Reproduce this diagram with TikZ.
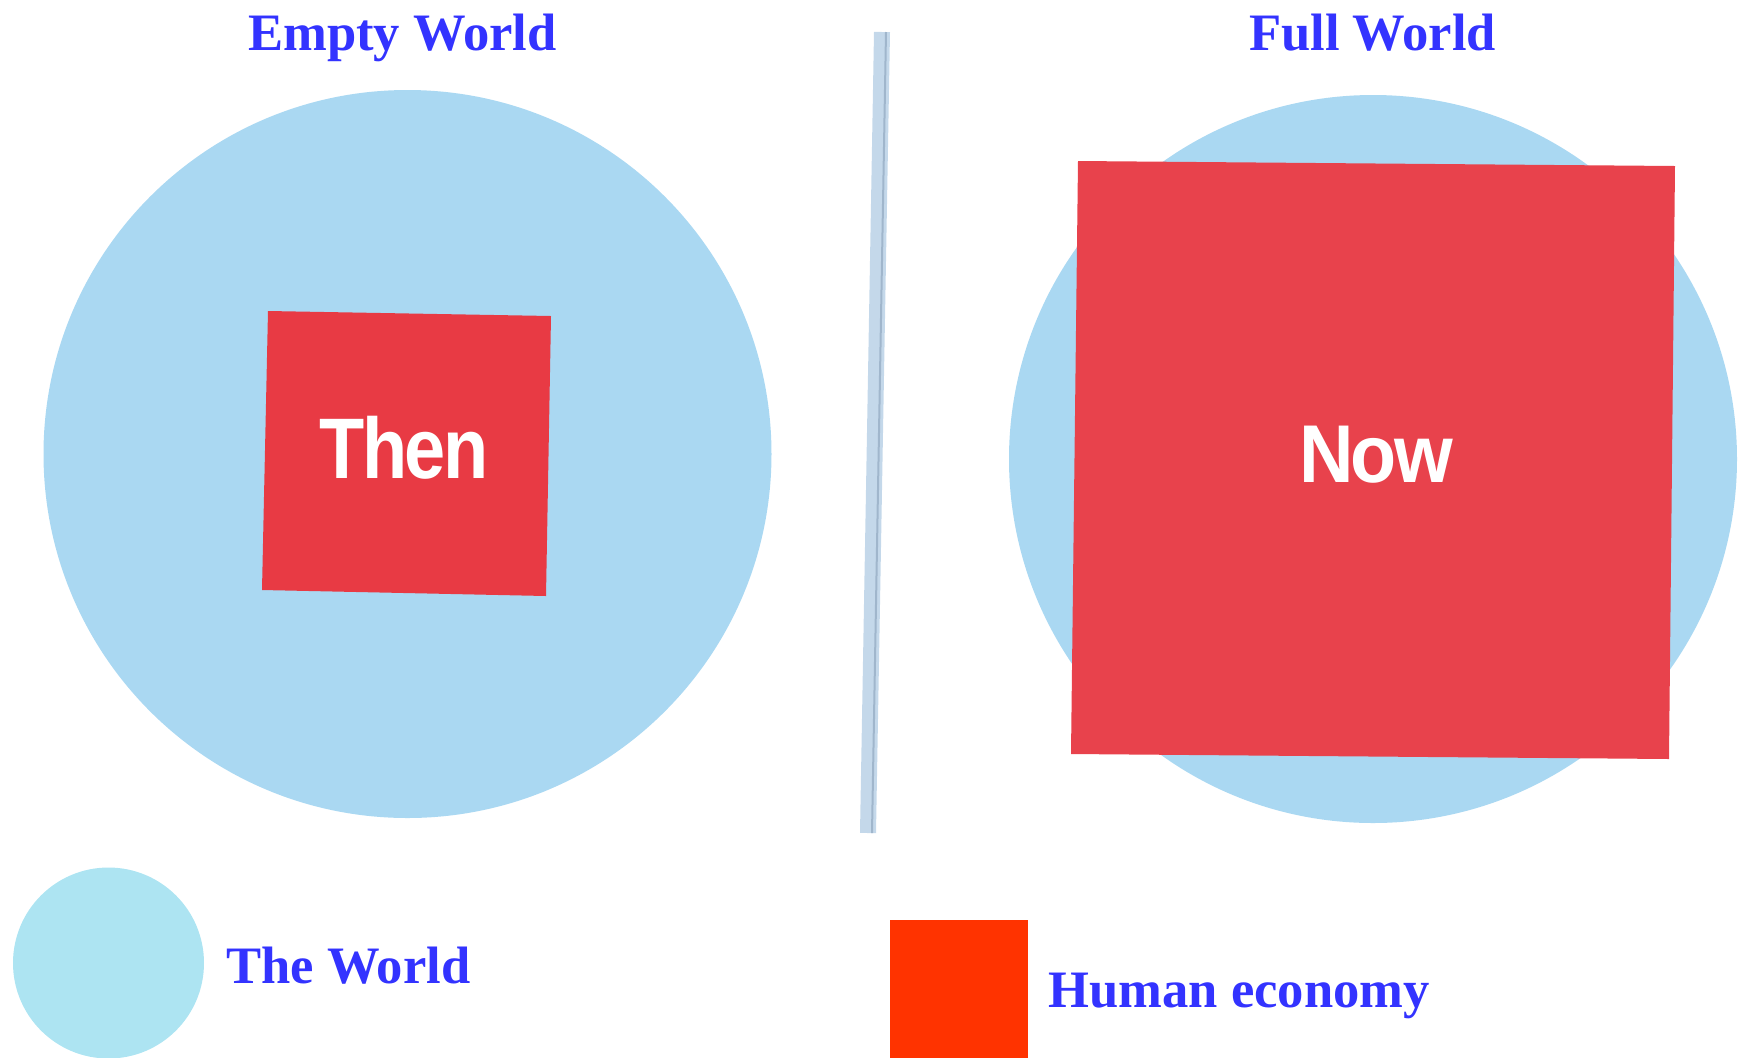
\documentclass[tikz,border=0pt]{standalone}
\usepackage{fontspec}
\setmainfont{Liberation Serif}
\newfontfamily\helv{Liberation Sans}
\definecolor{worldblue}{RGB}{170,216,242}
\definecolor{legendblue}{RGB}{173,228,242}
\definecolor{econred}{RGB}{232,58,68}
\definecolor{econred2}{RGB}{232,66,76}
\definecolor{legendred}{RGB}{255,51,0}
\definecolor{titleblue}{RGB}{51,51,255}
\definecolor{rulelight}{RGB}{196,216,234}
\definecolor{ruledark}{RGB}{160,182,204}
\tikzset{
  titletext/.style={text=titleblue,font=\bfseries\fontsize{26.3}{30}\selectfont,inner sep=0pt},
  boxtext/.style={text=white,font=\helv\bfseries,inner sep=0pt},
  worldcircle/.style={circle,fill=worldblue,inner sep=0pt,draw=none}
}
\begin{document}
\begin{tikzpicture}[x=0.5pt,y=-0.5pt]
\useasboundingbox (0,0) rectangle (1742,1057);
% left panel
\node[worldcircle,minimum size=364pt] (leftworld) at (407.5,454) {};
\fill[econred] (268,311) -- (551,316) -- (546,596) -- (262,590) -- cycle;
\node[boxtext,anchor=base] (then) at (404,478) {\fontsize{43}{50}\selectfont\addfontfeature{LetterSpace=-3.5}\scalebox{0.86}[1]{Then}};
% right panel
\node[worldcircle,minimum size=364pt] (rightworld) at (1373,459) {};
\fill[econred2] (1078,161) -- (1675,166) -- (1669,759) -- (1071,754) -- cycle;
\node[boxtext,anchor=base] (now) at (1376,482) {\fontsize{41}{48}\selectfont\addfontfeature{LetterSpace=-3.5}\scalebox{0.92}[1]{Now}};
% separator
\coordinate (septop) at (882,32);
\coordinate (sepbot) at (868,833);
\draw[rulelight,line width=8pt] (septop) -- (sepbot);
\draw[ruledark,line width=1pt] ([xshift=2pt]septop) -- ([xshift=2pt]sepbot);
% titles
\node[titletext,anchor=base] (emptytitle) at (402.5,50) {Empty World};
\node[titletext,anchor=base] (fulltitle) at (1372.5,50) {Full World};
% legend
\node[circle,fill=legendblue,minimum size=95.5pt,inner sep=0pt] (legcircle) at (108.5,963) {};
\node[titletext,anchor=base west] (legworld) at (226,983) {The World};
\fill[legendred] (890,920) rectangle (1028,1060);
\node[titletext,anchor=base west] (legecon) at (1048,1007) {Human economy};
\end{tikzpicture}
\end{document}
